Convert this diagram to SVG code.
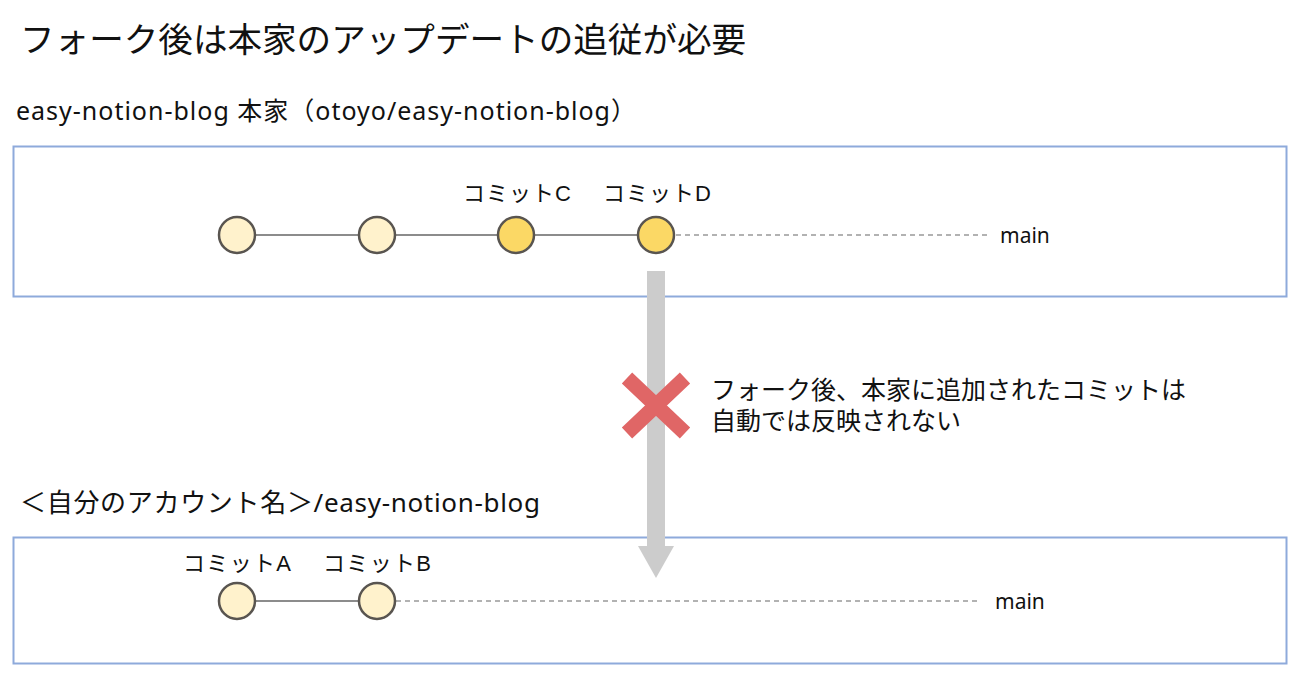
<svg xmlns="http://www.w3.org/2000/svg" width="1304" height="684" viewBox="0 0 1304 684">
<style>
text{font-family:"Noto Sans","Noto Sans CJK JP",sans-serif;fill:#111}
.box{fill:#fff;stroke:#8eaadb;stroke-width:2}
.c1{fill:#fff2cc;stroke:#595550;stroke-width:2.5}
.c2{fill:#fbd865;stroke:#595550;stroke-width:2.5}
.ln{stroke:#666;stroke-width:1.5;fill:none}
.dash{stroke:#666;stroke-width:1.2;stroke-dasharray:5 4;fill:none}
.lbl{font-family:"Liberation Sans","Noto Sans CJK JP",sans-serif;font-size:22px;text-anchor:middle}
.main{font-size:21px}
</style>
<rect width="1304" height="684" fill="#fff"/>
<text x="20" y="52" font-size="34.6" font-family="Noto Sans CJK JP, sans-serif">フォーク後は本家のアップデートの追従が必要</text>
<text x="16" y="120" font-size="25" textLength="620" lengthAdjust="spacing">easy-notion-blog 本家（otoyo/easy-notion-blog）</text>
<text x="20" y="512" font-size="26" textLength="520" lengthAdjust="spacing">＜自分のアカウント名＞/easy-notion-blog</text>
<g id="upstream"><rect class="box" x="13.5" y="146.5" width="1273" height="150"/></g>
<g id="fork"><rect class="box" x="13.5" y="537.5" width="1273" height="126"/></g>
<g id="connectors">
<line class="ln" x1="255" y1="235" x2="358" y2="235"/>
<line class="ln" x1="395" y1="235" x2="497" y2="235"/>
<line class="ln" x1="535" y1="235" x2="637" y2="235"/>
<line class="dash" x1="676" y1="235" x2="990" y2="235"/>
<line class="ln" x1="255" y1="601" x2="358" y2="601"/>
<line class="dash" x1="396" y1="601" x2="978" y2="601"/>
<polygon points="647,271 665,271 665,546 674,546 656,578 638,546 647,546" fill="#cccccc"/>
</g>
<g id="commit-u1"><circle class="c1" cx="237" cy="235" r="18"/></g>
<g id="commit-u2"><circle class="c1" cx="377" cy="235" r="18"/></g>
<g id="commit-c"><circle class="c2" cx="516" cy="235" r="18"/><text class="lbl" x="517" y="201" textLength="108" lengthAdjust="spacing">コミットC</text></g>
<g id="commit-d"><circle class="c2" cx="656" cy="235" r="18"/><text class="lbl" x="657" y="201" textLength="108" lengthAdjust="spacing">コミットD</text></g>
<g id="main-u"><text class="main" x="1000" y="243">main</text></g>
<g id="commit-a"><circle class="c1" cx="237" cy="601" r="18"/><text class="lbl" x="237" y="571" textLength="108" lengthAdjust="spacing">コミットA</text></g>
<g id="commit-b"><circle class="c1" cx="377" cy="601" r="18"/><text class="lbl" x="377" y="571" textLength="108" lengthAdjust="spacing">コミットB</text></g>
<g id="main-f"><text class="main" x="995" y="609">main</text></g>
<g id="cross">
<path d="M627,378 L685,433 M685,378 L627,433" stroke="#e06666" stroke-width="15" fill="none"/>
</g>
<g id="note">
<text x="711" y="399" font-size="25">フォーク後、本家に追加されたコミットは</text>
<text x="711" y="430" font-size="25">自動では反映されない</text>
</g>
</svg>
